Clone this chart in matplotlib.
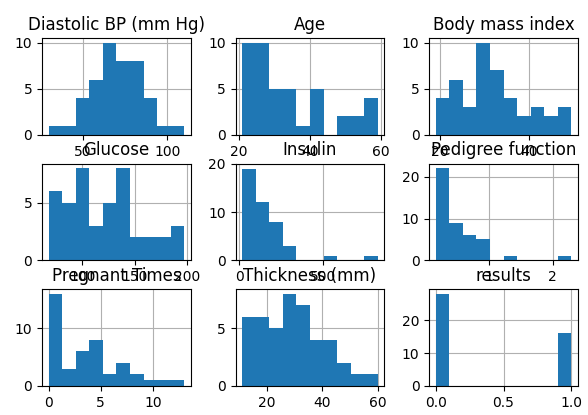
import numpy as np
import matplotlib
matplotlib.use("Agg")
import matplotlib.pyplot as plt

# column names in panel order
columns = ["Diastolic BP (mm Hg)", "Age", "Body mass index",
           "Glucose", "Insulin", "Pedigree function",
           "Pregnant Times", "Thickness (mm)", "results"]

# data range (min, max) of each column
ranges = [(30, 110), (21, 59), (19.1, 49.5),
          (68, 197), (18, 825), (0.17, 2.29),
          (0, 13), (11, 60), (0, 1)]

# counts in the 10 bins of each histogram
counts = [
    [1, 1, 4, 6, 10, 8, 8, 4, 1, 1],
    [10, 10, 5, 5, 1, 5, 0, 2, 2, 4],
    [4, 6, 3, 10, 7, 4, 2, 3, 2, 3],
    [6, 5, 8, 3, 5, 8, 2, 2, 2, 3],
    [19, 12, 8, 3, 0, 0, 1, 0, 0, 1],
    [22, 9, 6, 5, 0, 1, 0, 0, 0, 1],
    [16, 3, 6, 8, 2, 4, 2, 1, 1, 1],
    [6, 6, 5, 8, 7, 4, 4, 2, 1, 1],
    [28, 0, 0, 0, 0, 0, 0, 0, 0, 16],
]

fig, axes = plt.subplots(3, 3, figsize=(5.88, 4.15), dpi=100)
fig.subplots_adjust(left=0.0714, right=0.983, bottom=0.070, top=0.908,
                    wspace=0.3, hspace=0.3)

for ax, name, (lo, hi), c in zip(axes.flat, columns, ranges, counts):
    edges = np.linspace(lo, hi, 11)
    ax.hist(edges[:-1], bins=edges, weights=c, color="#1f77b4")
    ax.set_title(name)
    ax.grid(True)
    ax.set_axisbelow(True)

# the insulin panel shows its 20 tick at the very top
axes[1, 1].set_ylim(0, 20.01)

fig.savefig("out.png", dpi=100)
